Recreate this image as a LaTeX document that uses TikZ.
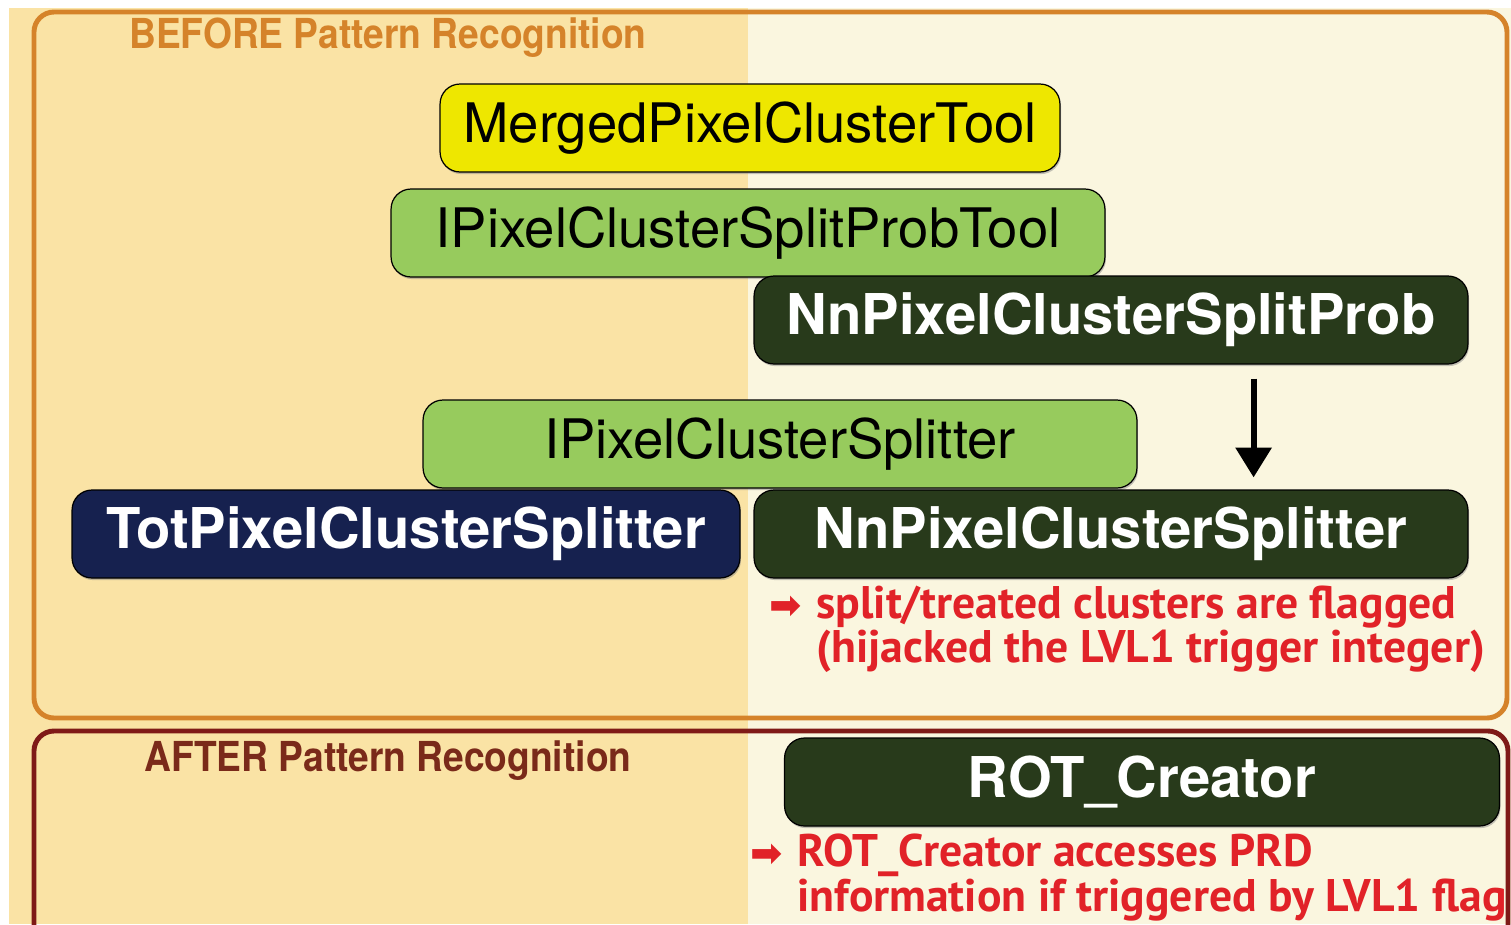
\documentclass[tikz,border=0pt]{standalone}
\usepackage{fontspec}
\setmainfont{TeX Gyre Heros}
\newfontfamily\notefont{PT Sans}
\newfontfamily\symfont{DejaVu Sans}
\newfontfamily\titlefont[FakeStretch=0.9]{TeX Gyre Heros}
\usetikzlibrary{arrows.meta,shadows,calc}

\definecolor{leftbg}{HTML}{FAE3A5}
\definecolor{rightbg}{HTML}{FAF6DF}
\definecolor{beforecol}{HTML}{D5832A}
\definecolor{aftercol}{HTML}{7F1A17}
\definecolor{aftertxt}{HTML}{7A2A1A}
\definecolor{toolyellow}{HTML}{EEE700}
\definecolor{ifacegreen}{HTML}{97CB5D}
\definecolor{nndark}{HTML}{283A1B}
\definecolor{totnavy}{HTML}{16214F}
\definecolor{notered}{HTML}{E12228}

\newcommand{\notearrow}{\llap{{\symfont\fontsize{22}{22}\selectfont ➡}\hspace{8pt}}}

\begin{document}
\begin{tikzpicture}[x=0.02cm, y=-0.02cm,
	box/.style={draw=black, line width=0.7pt, rounded corners=0.4cm,
		minimum height=1.76cm, inner sep=0pt,
		drop shadow={shadow xshift=0.6pt, shadow yshift=-1.2pt, opacity=0.45}},
	plainbox/.style={box, font=\fontsize{31}{36}\selectfont, text=black},
	boldbox/.style={box, font=\fontsize{32}{37}\selectfont\bfseries, text=white},
	note/.style={anchor=north west, align=left, inner sep=0pt, text=notered,
		font=\notefont\bfseries\fontsize{26}{24}\selectfont},
	title/.style={font=\titlefont\bfseries\fontsize{23.5}{26}\selectfont, inner sep=0pt}]
	\clip (0,0) rectangle (1511,924);
	% backgrounds
	\fill[white] (0,0) rectangle (1511,924);
	\fill[leftbg] (9,8) rectangle (748,924);
	\fill[rightbg] (748,8) rectangle (1511,924);
	% frames
	\draw[beforecol, line width=2.8pt, rounded corners=0.4cm] (34,12) rectangle (1507,718);
	\draw[aftercol, line width=2.8pt, rounded corners=0.4cm] (34,731) rectangle (1508,990);
	\node[title, text=beforecol] (before) at (388,38) {BEFORE Pattern Recognition};
	\node[title, text=aftertxt] (after) at (388,761) {AFTER Pattern Recognition};
	% tools
	\node[plainbox, fill=toolyellow, minimum width=12.4cm] (merged) at (750,128) {MergedPixelClusterTool};
	\node[plainbox, fill=ifacegreen, minimum width=14.28cm] (probtool) at (748,233) {IPixelClusterSplitProbTool};
	\node[boldbox, fill=nndark, minimum width=14.28cm] (nnprob) at (1111,320) {NnPixelClusterSplitProb};
	\node[plainbox, fill=ifacegreen, minimum width=14.28cm] (splitter) at (780,444) {IPixelClusterSplitter};
	\node[boldbox, fill=totnavy, minimum width=13.36cm] (tot) at (406,534) {TotPixelClusterSplitter};
	\node[boldbox, fill=nndark, minimum width=14.28cm] (nnsplit) at (1111,534) {NnPixelClusterSplitter};
	\node[boldbox, fill=nndark, minimum width=14.3cm] (rot) at (1142,782) {ROT\_Creator};
	% prob -> splitter
	\draw[line width=3.4pt, -{Triangle[width=20pt,length=17pt]}, shorten <=0.28cm, shorten >=0.24cm]
		([xshift=-4.3cm]nnprob.south east) -- ([xshift=-4.3cm]nnsplit.north east);
	% notes
	\node[note] (flagnote) at (816,586) {\notearrow split/treated clusters are flagged\\(hijacked the LVL1 trigger integer)};
	\node[note] (rotnote) at (797,834) {\notearrow ROT\_Creator accesses PRD\\information if triggered by LVL1 flag};
\end{tikzpicture}
\end{document}
